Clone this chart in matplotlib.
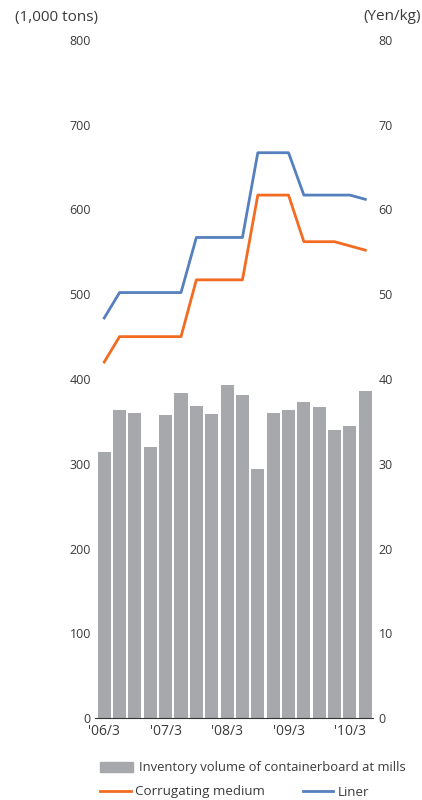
import matplotlib

matplotlib.use("Agg")
import matplotlib.pyplot as plt
from matplotlib.patches import Patch
from matplotlib.lines import Line2D

plt.rcParams["font.family"] = ["Open Sans", "DejaVu Sans"]

# trimestres '06/3 .. '10/6
trimestres = ["'06/3", "'06/6", "'06/9", "'06/12",
              "'07/3", "'07/6", "'07/9", "'07/12",
              "'08/3", "'08/6", "'08/9", "'08/12",
              "'09/3", "'09/6", "'09/9", "'09/12",
              "'10/3", "'10/6"]
inventario = [314, 363, 360, 320, 357, 383, 368, 359, 393,
              381, 294, 360, 363, 373, 367, 340, 344, 386]
corrugado = [42, 45, 45, 45, 45, 45, 51.7, 51.7, 51.7,
             51.7, 61.7, 61.7, 61.7, 56.2, 56.2, 56.2, 55.7, 55.2]
liner = [47.2, 50.2, 50.2, 50.2, 50.2, 50.2, 56.7, 56.7, 56.7,
         56.7, 66.7, 66.7, 66.7, 61.7, 61.7, 61.7, 61.7, 61.2]

GRIS = "#a7a8ab"
NARANJA = "#f26b21"
AZUL = "#5580bd"
TEXTO = "#3a3a3a"

fig = plt.figure(figsize=(4.22, 8), dpi=100)
ax = fig.add_axes([95 / 422, 1 - 718 / 800, 278 / 422, 678 / 800])
x = list(range(len(trimestres)))
ax.bar(x, inventario, width=0.85, color=GRIS, zorder=2)
ax.set_ylim(0, 800)
ax.set_xlim(-0.6, 17.5)
ax.set_yticks(range(0, 801, 100))
ax.set_xticks(x[::4])
ax.set_xticklabels(trimestres[::4], fontsize=10, color=TEXTO)
for s in ["top", "left", "right"]:
    ax.spines[s].set_visible(False)
ax.spines["bottom"].set_color("#333333")
ax.tick_params(axis="both", length=0, colors=TEXTO)
ax.tick_params(axis="y", labelsize=9, pad=3)
ax.tick_params(axis="x", pad=4)

ax2 = ax.twinx()
ax2.plot(x, corrugado, color=NARANJA, lw=2)
ax2.plot(x, liner, color=AZUL, lw=2)
ax2.set_ylim(0, 80)
ax2.set_yticks(range(0, 81, 10))
for s in ["top", "left", "right", "bottom"]:
    ax2.spines[s].set_visible(False)
ax2.tick_params(axis="y", length=0, labelsize=9, colors=TEXTO, pad=4)

fig.text(15 / 422, 1 - 17 / 800, "(1,000 tons)", fontsize=11, color=TEXTO, va="center")
fig.text(421 / 422, 1 - 17 / 800, "(Yen/kg)", fontsize=11, color=TEXTO, va="center", ha="right")

leg1 = fig.legend([Patch(color=GRIS)], ["Inventory volume of containerboard at mills"],
                  loc="center left", bbox_to_anchor=(100 / 422, 1 - 768 / 800),
                  frameon=False, fontsize=9.4, handlelength=2.5, handleheight=0.75,
                  handletextpad=0.5, borderaxespad=0, borderpad=0)
for t in leg1.get_texts():
    t.set_color(TEXTO)
leg2 = fig.legend([Line2D([], [], color=NARANJA, lw=2), Line2D([], [], color=AZUL, lw=2)],
                  ["Corrugating medium", "Liner"], ncol=2,
                  loc="center left", bbox_to_anchor=(100 / 422, 1 - 792 / 800),
                  frameon=False, fontsize=9.6, handlelength=2.3,
                  handletextpad=0.35, columnspacing=2.8, borderaxespad=0, borderpad=0)
for t in leg2.get_texts():
    t.set_color(TEXTO)

fig.savefig("out.png", dpi=100)
